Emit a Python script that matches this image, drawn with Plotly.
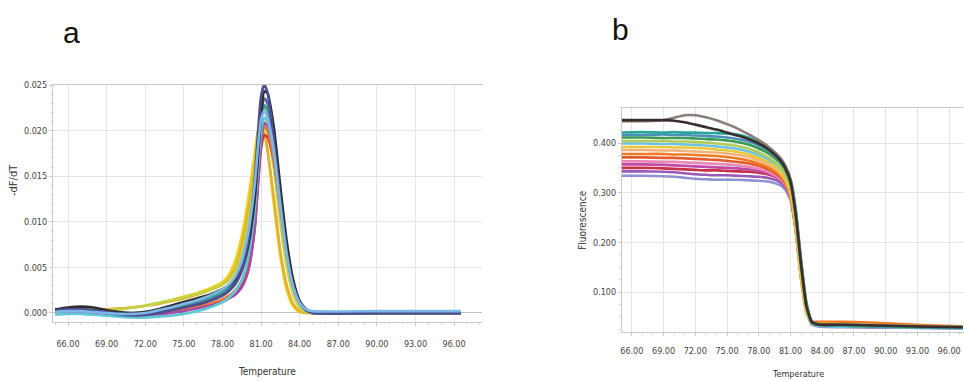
import plotly.graph_objects as go

# ---------------- Panel a: melt-curve derivative (-dF/dT) ----------------
temp_a = [65, 66, 67, 68, 69, 70, 71, 72, 73, 74, 75, 76, 77, 78, 78.5, 79, 79.5,
          80, 80.5, 80.75, 81, 81.25, 81.5, 82, 82.5, 83, 83.5, 84, 84.5, 85, 90, 96.5]

a_navy = [0.0003, 0.0004, 0.0004, 0.0003, 0.0001, -0.0001, -0.0002, -0.0002, 0.0, 0.0003, 0.0006, 0.0009, 0.0013, 0.0019, 0.0024, 0.0032, 0.0048,
          0.0080, 0.0145, 0.0195, 0.0238, 0.0250, 0.0242, 0.0190, 0.0122, 0.0066, 0.0030, 0.0011, 0.0003, 0.0, 0.0, 0.0]
a_black = [0.0004, 0.0006, 0.0007, 0.0006, 0.0003, 0.0001, 0.0, 0.0001, 0.0004, 0.0008, 0.0012, 0.0016, 0.0020, 0.0026, 0.0030, 0.0037, 0.0050,
           0.0075, 0.0125, 0.0170, 0.0215, 0.0243, 0.0241, 0.0203, 0.0138, 0.0078, 0.0036, 0.0013, 0.0004, 0.0001, 0.0, 0.0]
a_slate = [0.0002, 0.0003, 0.0003, 0.0002, 0.0, -0.0002, -0.0003, -0.0002, 0.0, 0.0003, 0.0006, 0.0010, 0.0014, 0.0020, 0.0025, 0.0032, 0.0046,
           0.0072, 0.0125, 0.0172, 0.0215, 0.0235, 0.0230, 0.0192, 0.0130, 0.0072, 0.0033, 0.0012, 0.0003, 0.0, 0.0, 0.0]
a_teal = [0.0002, 0.0003, 0.0003, 0.0002, 0.0001, 0.0, 0.0, 0.0001, 0.0003, 0.0006, 0.0010, 0.0013, 0.0017, 0.0023, 0.0028, 0.0036, 0.0052,
          0.0082, 0.0135, 0.0178, 0.0215, 0.0228, 0.0224, 0.0188, 0.0128, 0.0070, 0.0032, 0.0012, 0.0003, 0.0001, 0.0, 0.0]
a_yellow = [0.0001, 0.0002, 0.0003, 0.0003, 0.0003, 0.0004, 0.0006, 0.0008, 0.0011, 0.0014, 0.0018, 0.0022, 0.0027, 0.0034, 0.0042, 0.0058, 0.0085,
            0.0125, 0.0175, 0.0200, 0.0210, 0.0202, 0.0180, 0.0118, 0.0062, 0.0025, 0.0007, 0.0001, 0.0, 0.0, 0.0, 0.0]
a_gold = [0.0002, 0.0003, 0.0004, 0.0004, 0.0004, 0.0005, 0.0006, 0.0008, 0.0010, 0.0013, 0.0016, 0.0020, 0.0025, 0.0031, 0.0038, 0.0050, 0.0075,
          0.0112, 0.0160, 0.0188, 0.0200, 0.0196, 0.0178, 0.0126, 0.0068, 0.0030, 0.0010, 0.0002, 0.0, 0.0, 0.0, 0.0]
a_lime = [0.0002, 0.0003, 0.0004, 0.0004, 0.0003, 0.0004, 0.0006, 0.0008, 0.0011, 0.0014, 0.0017, 0.0021, 0.0025, 0.0031, 0.0036, 0.0046, 0.0066,
          0.0100, 0.0150, 0.0185, 0.0205, 0.0210, 0.0200, 0.0158, 0.0098, 0.0050, 0.0020, 0.0006, 0.0001, 0.0, 0.0, 0.0]
a_orange = [0.0001, 0.0001, 0.0, -0.0001, -0.0002, -0.0003, -0.0003, -0.0002, 0.0, 0.0002, 0.0004, 0.0007, 0.0010, 0.0015, 0.0019, 0.0025, 0.0036,
            0.0058, 0.0105, 0.0150, 0.0192, 0.0205, 0.0200, 0.0168, 0.0115, 0.0064, 0.0029, 0.0011, 0.0003, 0.0, 0.0, 0.0]
a_red = [0.0001, 0.0001, 0.0, -0.0001, -0.0002, -0.0003, -0.0004, -0.0003, -0.0001, 0.0001, 0.0003, 0.0006, 0.0009, 0.0013, 0.0017, 0.0022, 0.0030,
         0.0048, 0.0092, 0.0138, 0.0180, 0.0195, 0.0193, 0.0166, 0.0116, 0.0066, 0.0030, 0.0012, 0.0003, 0.0, 0.0, 0.0]
a_magenta = [0.0001, 0.0001, 0.0, -0.0001, -0.0002, -0.0003, -0.0004, -0.0003, -0.0002, 0.0, 0.0002, 0.0005, 0.0008, 0.0012, 0.0016, 0.0020, 0.0028,
             0.0046, 0.0092, 0.0140, 0.0188, 0.0208, 0.0206, 0.0177, 0.0122, 0.0070, 0.0032, 0.0012, 0.0004, 0.0, 0.0, 0.0]
a_green = [0.0003, 0.0004, 0.0004, 0.0003, 0.0001, 0.0, -0.0001, 0.0, 0.0002, 0.0005, 0.0008, 0.0012, 0.0016, 0.0022, 0.0027, 0.0034, 0.0049,
           0.0078, 0.0130, 0.0175, 0.0212, 0.0226, 0.0222, 0.0188, 0.0128, 0.0071, 0.0032, 0.0012, 0.0004, 0.0001, 0.0, 0.0]
a_cyan = [-0.0002, -0.0001, -0.0001, -0.0002, -0.0003, -0.0004, -0.0005, -0.0005, -0.0004, -0.0003, -0.0001, 0.0002, 0.0006, 0.0012, 0.0017, 0.0024, 0.0036,
          0.0062, 0.0112, 0.0158, 0.0198, 0.0214, 0.0210, 0.0176, 0.0118, 0.0065, 0.0029, 0.0011, 0.0003, 0.0, 0.0, 0.0]
a_lightblue = [0.0001, 0.0002, 0.0002, 0.0001, 0.0, -0.0001, -0.0001, 0.0, 0.0003, 0.0006, 0.0010, 0.0014, 0.0019, 0.0026, 0.0031, 0.0040, 0.0057,
               0.0088, 0.0140, 0.0180, 0.0212, 0.0222, 0.0214, 0.0178, 0.0118, 0.0064, 0.0029, 0.0011, 0.0004, 0.0002, 0.0002, 0.0002]

series_a = [
    ("yellow", "#f2d21a", a_yellow),
    ("gold", "#e0b030", a_gold),
    ("lime", "#c2d24a", a_lime),
    ("red", "#d83a3a", a_red),
    ("orange", "#ef7a34", a_orange),
    ("magenta", "#a84aa6", a_magenta),
    ("cyan", "#5ccad6", a_cyan),
    ("green", "#46a05a", a_green),
    ("teal", "#36a8a0", a_teal),
    ("slate", "#5a6aa0", a_slate),
    ("black", "#2e2e2e", a_black),
    ("navy", "#4d4d90", a_navy),
    ("lightblue", "#7db6e8", a_lightblue),
]

# ---------------- Panel b: melt curves (Fluorescence) ----------------
temp_b = [65, 67, 69, 70, 71, 72, 73, 74, 75, 76, 77, 78, 79, 80, 80.5, 81, 81.5,
          82, 82.5, 83, 83.5, 84, 86, 88, 90, 92, 94, 97.3]

b_brown = [0.446, 0.446, 0.446, 0.445, 0.442, 0.437, 0.432, 0.427, 0.421, 0.415, 0.408, 0.399, 0.386, 0.366, 0.350, 0.322, 0.255,
           0.155, 0.072, 0.040, 0.035, 0.034, 0.034, 0.033, 0.032, 0.031, 0.030, 0.029]
b_gray = [0.444, 0.444, 0.446, 0.451, 0.456, 0.456, 0.452, 0.446, 0.438, 0.429, 0.418, 0.406, 0.391, 0.371, 0.355, 0.327, 0.262,
          0.160, 0.075, 0.041, 0.036, 0.035, 0.035, 0.034, 0.033, 0.032, 0.031, 0.030]
b_teal = [0.421, 0.422, 0.421, 0.422, 0.421, 0.421, 0.420, 0.420, 0.419, 0.417, 0.411, 0.401, 0.389, 0.369, 0.354, 0.328, 0.266,
          0.165, 0.080, 0.042, 0.035, 0.034, 0.033, 0.032, 0.031, 0.030, 0.029, 0.028]
b_steel = [0.416, 0.416, 0.417, 0.416, 0.416, 0.415, 0.414, 0.413, 0.411, 0.408, 0.403, 0.395, 0.383, 0.364, 0.349, 0.322, 0.258,
           0.158, 0.076, 0.040, 0.034, 0.033, 0.032, 0.031, 0.030, 0.029, 0.029, 0.028]
b_green = [0.411, 0.411, 0.410, 0.410, 0.410, 0.409, 0.408, 0.407, 0.405, 0.402, 0.397, 0.389, 0.378, 0.360, 0.346, 0.320, 0.255,
           0.155, 0.074, 0.039, 0.034, 0.033, 0.032, 0.031, 0.030, 0.030, 0.029, 0.028]
b_lime = [0.404, 0.404, 0.404, 0.403, 0.403, 0.402, 0.401, 0.399, 0.397, 0.394, 0.389, 0.381, 0.370, 0.352, 0.338, 0.312, 0.245,
          0.145, 0.068, 0.038, 0.034, 0.033, 0.032, 0.031, 0.030, 0.029, 0.029, 0.028]
b_lightblue = [0.399, 0.399, 0.398, 0.398, 0.397, 0.396, 0.395, 0.393, 0.391, 0.388, 0.383, 0.376, 0.366, 0.350, 0.337, 0.312, 0.248,
               0.150, 0.071, 0.037, 0.032, 0.031, 0.030, 0.030, 0.029, 0.028, 0.028, 0.027]
b_gold = [0.392, 0.392, 0.392, 0.391, 0.391, 0.390, 0.389, 0.387, 0.385, 0.382, 0.377, 0.370, 0.360, 0.343, 0.329, 0.300, 0.230,
          0.130, 0.060, 0.038, 0.036, 0.036, 0.035, 0.034, 0.033, 0.032, 0.031, 0.030]
b_peach = [0.386, 0.386, 0.385, 0.385, 0.384, 0.383, 0.382, 0.381, 0.379, 0.376, 0.372, 0.365, 0.356, 0.340, 0.326, 0.298, 0.228,
           0.128, 0.060, 0.037, 0.035, 0.035, 0.034, 0.033, 0.032, 0.031, 0.030, 0.029]
b_orange = [0.378, 0.378, 0.378, 0.377, 0.377, 0.376, 0.375, 0.374, 0.372, 0.369, 0.365, 0.359, 0.350, 0.335, 0.321, 0.292, 0.222,
            0.125, 0.058, 0.040, 0.040, 0.040, 0.040, 0.039, 0.037, 0.035, 0.033, 0.031]
b_orangered = [0.371, 0.371, 0.370, 0.370, 0.369, 0.368, 0.367, 0.366, 0.364, 0.362, 0.359, 0.354, 0.346, 0.332, 0.319, 0.293, 0.226,
               0.130, 0.062, 0.038, 0.036, 0.035, 0.034, 0.033, 0.032, 0.031, 0.030, 0.029]
b_pink = [0.363, 0.363, 0.362, 0.362, 0.361, 0.360, 0.359, 0.358, 0.357, 0.355, 0.352, 0.348, 0.341, 0.328, 0.316, 0.292, 0.228,
          0.133, 0.064, 0.037, 0.033, 0.032, 0.031, 0.030, 0.030, 0.029, 0.028, 0.028]
b_magenta = [0.357, 0.357, 0.356, 0.355, 0.354, 0.353, 0.352, 0.351, 0.350, 0.349, 0.347, 0.344, 0.338, 0.326, 0.315, 0.292, 0.229,
             0.135, 0.065, 0.037, 0.033, 0.032, 0.031, 0.030, 0.029, 0.029, 0.028, 0.028]
b_crimson = [0.350, 0.350, 0.349, 0.348, 0.347, 0.346, 0.345, 0.345, 0.344, 0.343, 0.342, 0.340, 0.336, 0.327, 0.317, 0.295, 0.232,
             0.138, 0.066, 0.037, 0.033, 0.032, 0.031, 0.030, 0.030, 0.029, 0.028, 0.028]
b_purple = [0.343, 0.343, 0.342, 0.341, 0.339, 0.337, 0.336, 0.335, 0.335, 0.334, 0.333, 0.332, 0.329, 0.321, 0.311, 0.290, 0.226,
            0.133, 0.064, 0.036, 0.032, 0.031, 0.030, 0.029, 0.029, 0.028, 0.028, 0.027]
b_lavender = [0.334, 0.334, 0.333, 0.332, 0.330, 0.328, 0.327, 0.326, 0.326, 0.326, 0.325, 0.324, 0.322, 0.315, 0.306, 0.285, 0.222,
              0.130, 0.062, 0.035, 0.031, 0.030, 0.029, 0.029, 0.028, 0.028, 0.027, 0.027]

series_b = [
    ("lavender", "#8f92d2", b_lavender),
    ("purple", "#9a5ab8", b_purple),
    ("crimson", "#c8304a", b_crimson),
    ("magenta", "#c04aa8", b_magenta),
    ("pink", "#e888b8", b_pink),
    ("orangered", "#e65a2e", b_orangered),
    ("orange", "#f07820", b_orange),
    ("peach", "#f4b27a", b_peach),
    ("gold", "#e8c838", b_gold),
    ("lightblue", "#70c0e0", b_lightblue),
    ("lime", "#b0cc58", b_lime),
    ("green", "#3a9a50", b_green),
    ("steel", "#4a90b8", b_steel),
    ("teal", "#2aa59a", b_teal),
    ("gray", "#8a7f78", b_gray),
    ("brown", "#3a2e2a", b_brown),
]

ticks_x = [66, 69, 72, 75, 78, 81, 84, 87, 90, 93, 96]
ticks_ya = [0.0, 0.005, 0.010, 0.015, 0.020, 0.025]
ticks_yb = [0.1, 0.2, 0.3, 0.4]

W, H = 964, 381
def px_x(p):
    return p / W
def px_y(p):
    return 1 - p / H

fig = go.Figure()
for name, color, vals in series_a:
    fig.add_trace(go.Scatter(x=temp_a, y=vals, mode="lines", name=name,
                             line=dict(color=color, width=2.6, shape="spline", smoothing=0.6),
                             xaxis="x", yaxis="y", showlegend=False))
for name, color, vals in series_b:
    fig.add_trace(go.Scatter(x=temp_b, y=vals, mode="lines", name=name,
                             line=dict(color=color, width=2.6, shape="spline", smoothing=0.5),
                             xaxis="x2", yaxis="y2", showlegend=False))

tick_font = dict(family="Liberation Sans Narrow, DejaVu Sans Condensed, Liberation Sans, sans-serif", size=9, color="#444")
grid = "#e4e4e4"
axis_line = "#c8c8c8"

common_x = dict(tickmode="array", tickvals=ticks_x, ticktext=[f"{v:.2f}" for v in ticks_x],
                showgrid=True, gridcolor=grid, gridwidth=1, showline=True, linecolor=axis_line,
                mirror=True, zeroline=False, ticks="outside", ticklen=3, tickcolor=axis_line,
                tickfont=tick_font, automargin=False, ticklabeloverflow="allow",
                minor=dict(ticks="outside", ticklen=2, tickcolor="#d8d8d8", dtick=1, showgrid=False))

fig.update_layout(
    width=W, height=H, margin=dict(l=0, r=0, t=0, b=0, pad=0),
    paper_bgcolor="white", plot_bgcolor="white",
    xaxis=dict(domain=[px_x(53), px_x(482)], range=[64.83, 98.17], anchor="y",
               ticklabelstandoff=10, **common_x),
    yaxis=dict(domain=[px_y(322), px_y(85)], range=[-0.00099, 0.025], anchor="x",
               tickmode="array", tickvals=ticks_ya, ticktext=[f"{v:.3f}" for v in ticks_ya],
               showgrid=True, gridcolor=grid, showline=True, linecolor=axis_line,
               zeroline=True, zerolinecolor="#bdbdbd", zerolinewidth=1.2, automargin=False,
               ticks="outside", ticklen=3, tickcolor=axis_line, tickfont=tick_font,
               minor=dict(ticks="outside", ticklen=2, tickcolor="#d8d8d8", dtick=0.001, showgrid=False)),
    xaxis2=dict(domain=[px_x(622), 1.0], range=[65.07, 97.4], anchor="y2",
                ticklabelstandoff=7, **common_x),
    yaxis2=dict(domain=[px_y(332), px_y(108)], range=[0.0195, 0.4705], anchor="x2",
                tickmode="array", tickvals=ticks_yb, ticktext=[f"{v:.3f}" for v in ticks_yb],
                showgrid=True, gridcolor=grid, showline=True, linecolor=axis_line, automargin=False,
                zeroline=False, ticks="outside", ticklen=3, tickcolor=axis_line, tickfont=tick_font,
                minor=dict(ticks="outside", ticklen=2, tickcolor="#d8d8d8", dtick=0.025, showgrid=False)),
)

label_font = dict(family="Liberation Sans, Open Sans, sans-serif", size=30, color="#111")
title_font = dict(family="Liberation Sans Narrow, DejaVu Sans Condensed, Liberation Sans, sans-serif", size=10, color="#333")
fig.add_annotation(text="a", x=px_x(71), y=px_y(32), xref="paper", yref="paper",
                   showarrow=False, font=label_font, xanchor="center", yanchor="middle")
fig.add_annotation(text="b", x=px_x(620), y=px_y(30), xref="paper", yref="paper",
                   showarrow=False, font=label_font, xanchor="center", yanchor="middle")
fig.add_annotation(text="-dF/dT", x=px_x(13), y=px_y(180), xref="paper", yref="paper",
                   showarrow=False, textangle=-90, font=dict(title_font, size=11),
                   xanchor="center", yanchor="middle")
fig.add_annotation(text="Temperature", x=px_x(267), y=px_y(371), xref="paper", yref="paper",
                   showarrow=False, font=title_font, xanchor="center", yanchor="middle")
fig.add_annotation(text="Fluorescence", x=px_x(582), y=px_y(220), xref="paper", yref="paper",
                   showarrow=False, textangle=-90, font=dict(title_font, size=10),
                   xanchor="center", yanchor="middle")
fig.add_annotation(text="Temperature", x=px_x(798), y=px_y(374), xref="paper", yref="paper",
                   showarrow=False, font=dict(title_font, size=9), xanchor="center", yanchor="middle")

fig.write_html("out.html", config={"displayModeBar": False},
               post_script="document.body.style.margin='0';document.body.style.overflow='hidden';"
                           "document.documentElement.style.overflow='hidden';")
